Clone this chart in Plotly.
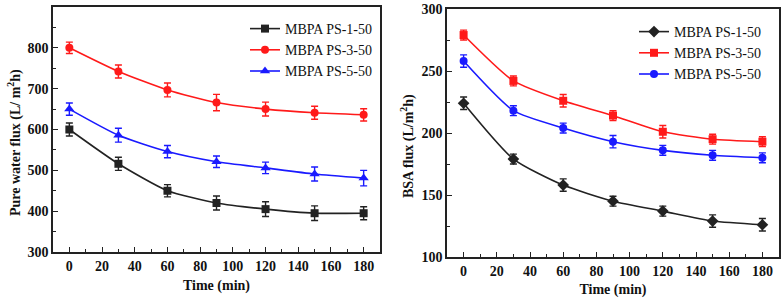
import plotly.graph_objects as go

time = [0, 30, 60, 90, 120, 150, 180]

# Left panel: pure water flux
pw_ps1 = [600, 516, 450, 420, 405, 395, 395]
pw_ps1_err = [16, 16, 15, 17, 18, 18, 16]
pw_ps3 = [800, 742, 697, 666, 650, 641, 636]
pw_ps3_err = [14, 16, 17, 20, 17, 16, 15]
pw_ps5 = [650, 586, 546, 521, 506, 491, 481]
pw_ps5_err = [15, 17, 15, 14, 14, 17, 19]

# Right panel: BSA flux
bsa_ps1 = [224, 179, 158, 145, 137, 129, 126]
bsa_ps1_err = [5, 4, 5, 4, 4, 5, 5]
bsa_ps3 = [279, 242, 226, 214, 201, 195, 193]
bsa_ps3_err = [4, 4, 5, 4, 5, 4, 4]
bsa_ps5 = [258, 218, 204, 193, 186, 182, 180]
bsa_ps5_err = [5, 4, 4, 5, 4, 4, 4]

names = ["MBPA PS-1-50", "MBPA PS-3-50", "MBPA PS-5-50"]
colors = ["#222222", "#ff1a1a", "#1a1aff"]
y_titles = ["Pure water flux (L/ m<sup>2</sup>h)", "BSA flux (L/m<sup>2</sup>h)"]

FONT = "Liberation Serif"

fig = go.Figure()

def add(x, y, err, name, color, symbol, xa, ya, legend, msize=8):
    fig.add_trace(go.Scatter(
        x=x, y=y, name=name, mode="lines+markers",
        line=dict(color=color, width=1.6, shape="spline", smoothing=0.6),
        marker=dict(symbol=symbol, size=msize, color=color),
        error_y=dict(type="data", array=err, visible=True, color=color, thickness=1.4, width=3.5),
        xaxis=xa, yaxis=ya, legend=legend,
    ))

add(time, pw_ps1, pw_ps1_err, names[0], colors[0], "square", "x", "y", "legend", 8)
add(time, pw_ps3, pw_ps3_err, names[1], colors[1], "circle", "x", "y", "legend", 8)
add(time, pw_ps5, pw_ps5_err, names[2], colors[2], "triangle-up", "x", "y", "legend", 9)

add(time, bsa_ps1, bsa_ps1_err, names[0], colors[0], "diamond", "x2", "y2", "legend2", 9)
add(time, bsa_ps3, bsa_ps3_err, names[1], colors[1], "square", "x2", "y2", "legend2", 8)
add(time, bsa_ps5, bsa_ps5_err, names[2], colors[2], "circle", "x2", "y2", "legend2", 8)

tickfont = dict(family=FONT, size=14, color="#111111", weight="bold")
titlefont = dict(family=FONT, size=14, color="#111111", weight="bold")

def xaxis(domain, anchor):
    return dict(
        domain=domain, anchor=anchor, range=[-10, 190],
        tickmode="linear", tick0=0, dtick=20,
        ticks="inside", ticklen=5, tickwidth=1.3, tickcolor="#222",
        minor=dict(ticks="inside", dtick=10, ticklen=3, tickwidth=1.2, tickcolor="#222"),
        showline=True, linecolor="#222", linewidth=1.6, mirror=True,
        showgrid=False, zeroline=False, tickfont=tickfont,
        title=dict(text="Time (min)", font=titlefont, standoff=8),
    )

def yaxis(domain, anchor, rng, dtick, minor):
    return dict(
        domain=domain, anchor=anchor, range=rng,
        tickmode="linear", tick0=rng[0], dtick=dtick,
        ticks="inside", ticklen=5, tickwidth=1.3, tickcolor="#222",
        minor=dict(ticks="inside", dtick=minor, ticklen=3, tickwidth=1.2, tickcolor="#222"),
        showline=True, linecolor="#222", linewidth=1.6, mirror=True,
        showgrid=False, zeroline=False, tickfont=tickfont,
    )

legfont = dict(family=FONT, size=14, color="#111111")

fig.update_layout(
    width=784, height=298,
    margin=dict(l=0, r=0, t=0, b=0, autoexpand=False),
    paper_bgcolor="white", plot_bgcolor="white",
    font=dict(family=FONT, size=14, color="#111111"),
    showlegend=True,
    xaxis=xaxis([53/784, 380/784], "y"),
    yaxis=yaxis([46/298, 291/298], "x", [300, 900], 100, 50),
    xaxis2=xaxis([447/784, 779/784], "y2"),
    yaxis2=yaxis([41/298, 289/298], "x2", [100, 300], 50, 25),
    legend=dict(x=245/784, y=1 - 13/298, xanchor="left", yanchor="top",
                bgcolor="rgba(0,0,0,0)", font=legfont,
                tracegroupgap=0, itemwidth=30),
    legend2=dict(x=634/784, y=1 - 16/298, xanchor="left", yanchor="top",
                 bgcolor="rgba(0,0,0,0)", font=legfont,
                 tracegroupgap=0, itemwidth=30),
    annotations=[
        dict(text=y_titles[0], textangle=-90, xref="paper", yref="paper",
             x=15/784, y=1 - 143/298, xanchor="center", yanchor="middle",
             showarrow=False, font=titlefont),
        dict(text=y_titles[1], textangle=-90, xref="paper", yref="paper",
             x=407/784, y=1 - 146/298, xanchor="center", yanchor="middle",
             showarrow=False, font=titlefont),
    ],
)

fig.write_html("out.html", config={"displayModeBar": False},
               post_script="document.body.style.margin='0';document.body.style.padding='0';")
